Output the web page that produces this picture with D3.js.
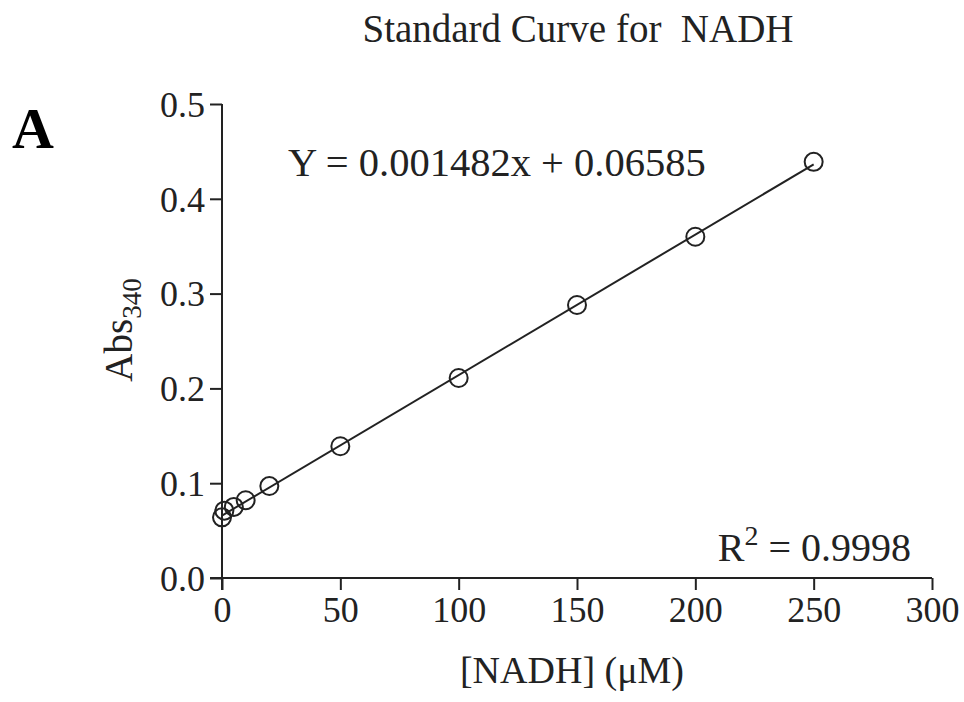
<!DOCTYPE html>
<html>
<head>
<meta charset="utf-8">
<script src="https://cdn.jsdelivr.net/npm/d3@7"></script>
<style>
  html, body { margin: 0; padding: 0; background: #fff; }
  svg text { font-family: "Liberation Serif", "Times New Roman", serif; fill: #222; }
</style>
</head>
<body>
<svg id="chart" width="964" height="702"></svg>
<script>
// Data
const concentrations = [0, 1, 5, 10, 20, 50, 100, 150, 200, 250];
const absorbance = [0.064, 0.071, 0.075, 0.082, 0.097, 0.139, 0.211, 0.288, 0.360, 0.439];
const fitSlope = 0.001482;
const fitIntercept = 0.06585;
const xTicks = [0, 50, 100, 150, 200, 250, 300];
const yTicks = [0.0, 0.1, 0.2, 0.3, 0.4, 0.5];
const titleText = "Standard Curve for \u00A0NADH";
const equationText = "Y = 0.001482x + 0.06585";
const r2Value = "0.9998";

const svg = d3.select("#chart");
const ink = "#222";

const x = d3.scaleLinear().domain([0, 300]).range([222, 932]);
const y = d3.scaleLinear().domain([0, 0.5]).range([578, 104]);

// Axes
const xAxis = d3.axisBottom(x).tickValues(xTicks).tickSize(12).tickSizeOuter(0).tickPadding(6)
  .tickFormat(d3.format("d"));
const yAxis = d3.axisLeft(y).tickValues(yTicks).tickSize(12).tickSizeOuter(0).tickPadding(5)
  .tickFormat(d3.format(".1f"));

const gx = svg.append("g").attr("transform", `translate(0,${y(0)})`).call(xAxis);
const gy = svg.append("g").attr("transform", `translate(${x(0)},0)`).call(yAxis);

[gx, gy].forEach(g => {
  g.select(".domain").attr("stroke", ink).attr("stroke-width", 2);
  g.selectAll(".tick line").attr("stroke", ink).attr("stroke-width", 2);
  g.selectAll(".tick text").attr("font-family", "Liberation Serif").attr("font-size", 36).attr("fill", ink);
});
// extend domains to meet the crossing ticks
gx.select(".domain").attr("d", `M${x(0)-12},0H${x(300)}`);
gy.select(".domain").attr("d", `M0,${y(0)+12}V${y(0.5)}`);
gy.selectAll(".tick text").attr("dy", "0.34em");

// Fit line
svg.append("line")
  .attr("x1", x(0)).attr("y1", y(fitIntercept))
  .attr("x2", x(250)).attr("y2", y(fitSlope * 250 + fitIntercept))
  .attr("stroke", ink).attr("stroke-width", 2);

// Points
svg.append("g").selectAll("circle")
  .data(concentrations.map((c, i) => [c, absorbance[i]]))
  .join("circle")
  .attr("cx", d => x(d[0])).attr("cy", d => y(d[1]))
  .attr("r", 9)
  .attr("fill", "none").attr("stroke", ink).attr("stroke-width", 2);

// Title
svg.append("text").attr("x", 578).attr("y", 42).attr("text-anchor", "middle")
  .attr("font-size", 39).text(titleText);

// Panel letter
svg.append("text").attr("x", 12).attr("y", 148).attr("font-size", 58).attr("font-weight", "bold")
  .style("fill", "#000").text("A");

// Equation
svg.append("text").attr("x", 288).attr("y", 176).attr("font-size", 40.5).text(equationText);

// R^2
const r2 = svg.append("text").attr("x", 911).attr("y", 561).attr("text-anchor", "end").attr("font-size", 40);
r2.append("tspan").text("R");
r2.append("tspan").attr("font-size", 28).attr("dy", -16).text("2");
r2.append("tspan").attr("dy", 16).text(" = " + r2Value);

// X label
svg.append("text").attr("x", 572).attr("y", 683).attr("text-anchor", "middle")
  .attr("font-size", 38).text("[NADH] (\u03BCM)");

// Y label
const yl = svg.append("text").attr("transform", "translate(132,330) rotate(-90)")
  .attr("text-anchor", "middle").attr("font-size", 39);
yl.append("tspan").text("Abs");
yl.append("tspan").attr("font-size", 27).attr("dy", 9).text("340");
</script>
</body>
</html>
